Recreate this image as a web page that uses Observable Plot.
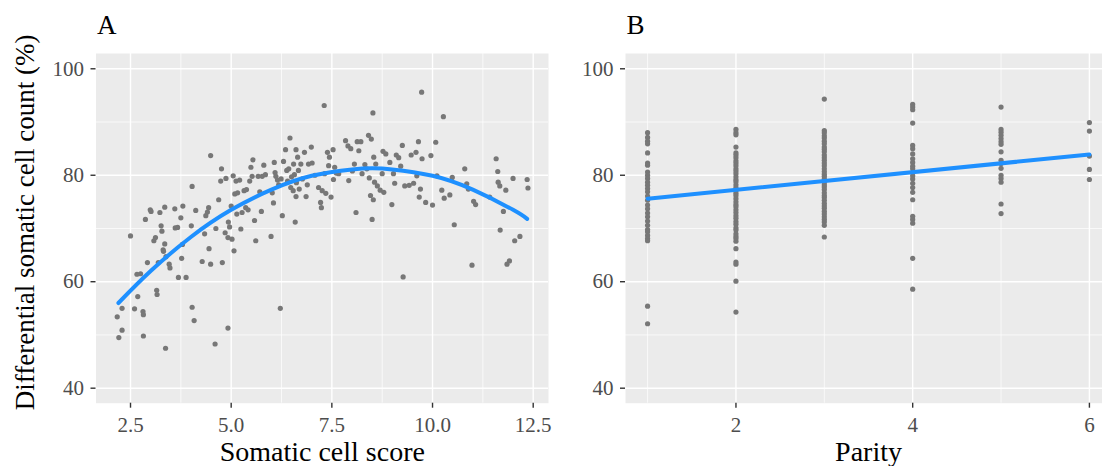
<!DOCTYPE html>
<html><head><meta charset="utf-8">
<script src="https://cdn.jsdelivr.net/npm/d3@7"></script>
<script src="https://cdn.jsdelivr.net/npm/@observablehq/plot@0.6"></script>
<style>
html,body{margin:0;padding:0;background:#fff;overflow:hidden;width:1102px;height:466px;}
#wrap{position:relative;width:1102px;height:466px;overflow:hidden;}
#a{position:absolute;left:0;top:0;width:560px;}
#b{position:absolute;left:560px;top:0;width:600px;}
svg{max-width:none !important;}
svg text, svg g{font-family:'Liberation Serif','Times New Roman',serif !important;}
</style></head><body><div id="wrap"><div id="a"></div><div id="b"></div></div>
<script>
// Panel A: somatic cell score vs differential somatic cell count
const sccScore = [2.17,2.21,2.29,2.29,2.5,2.6,2.66,2.68,2.75,2.81,
2.82,2.82,2.87,2.92,2.99,3.01,3.08,3.12,3.15,3.16,
3.19,3.23,3.26,3.28,3.31,3.32,3.35,3.37,3.35,3.38,
3.46,3.48,3.6,3.61,3.67,3.69,3.75,3.77,3.8,3.79,
3.88,4.01,4.03,4.03,4.08,4.12,4.28,4.34,4.37,4.41,
4.44,4.45,4.49,4.49,4.6,4.62,4.69,4.74,4.76,4.78,
4.85,4.87,4.92,4.92,4.93,4.96,5.0,5.02,5.05,5.07,
5.09,5.12,5.14,5.16,5.21,5.24,5.27,5.32,5.36,5.38,
5.42,5.46,5.49,5.52,5.54,5.58,5.61,5.67,5.71,5.75,
5.77,5.81,5.85,5.99,6.02,6.05,6.07,6.09,6.11,6.15,
6.18,6.22,6.24,6.27,6.3,6.35,6.38,6.4,6.43,6.46,
6.48,6.5,6.54,6.55,6.57,6.59,6.61,6.61,6.62,6.65,
6.67,6.69,6.73,6.77,6.82,6.86,6.89,6.92,6.99,7.01,
7.08,7.17,7.22,7.24,7.26,7.31,7.32,7.35,7.39,7.42,
7.44,7.48,7.53,7.54,7.57,7.61,7.67,7.84,7.9,7.92,
7.97,8.01,8.06,8.1,8.13,8.17,8.22,8.25,8.32,8.37,
8.41,8.43,8.46,8.48,8.5,8.52,8.53,8.54,8.56,8.59,
8.63,8.7,8.75,8.77,8.79,8.84,8.94,8.99,9.03,9.06,
9.1,9.16,9.21,9.25,9.27,9.31,9.42,9.47,9.53,9.59,
9.61,9.65,9.67,9.7,9.73,9.74,9.83,9.96,10.0,10.08,
10.11,10.23,10.27,10.29,10.43,10.49,10.54,10.8,10.85,10.89,
10.98,11.02,11.07,11.42,11.58,11.62,11.63,11.67,11.68,11.76,
11.82,11.85,11.91,12.0,12.04,12.17,12.35,12.37];
const dsccA = [53.4,49.5,55.0,50.9,68.6,54.9,61.4,57.2,61.5,54.4,
53.8,49.8,71.7,63.6,73.5,73.2,67.7,68.3,58.4,57.6,
63.6,73.0,70.5,69.5,66.0,65.7,74.0,47.5,67.1,64.7,
63.3,62.6,73.7,70.1,70.2,60.8,72.0,64.4,74.2,67.0,
60.8,70.5,77.9,55.2,52.7,73.4,63.8,69.0,72.4,73.1,
73.9,66.2,83.7,63.3,48.3,70.0,75.4,78.9,81.2,63.6,
69.2,79.4,68.3,51.3,71.2,70.3,74.2,68.0,79.9,65.8,
76.5,78.9,72.7,76.7,79.1,69.9,73.0,77.1,73.9,77.3,
73.5,78.9,81.5,79.8,82.9,71.5,67.7,79.8,76.9,73.2,
79.8,81.9,80.1,68.5,76.7,74.8,82.4,80.5,79.8,79.1,
78.2,55.0,79.3,72.4,82.6,84.8,80.9,78.9,81.2,87.0,
77.7,79.7,77.1,82.1,80.1,71.2,84.8,76.0,78.6,83.4,
80.9,77.4,82.1,79.3,84.3,76.0,78.2,82.1,85.3,82.3,
80.0,77.7,74.9,73.9,77.1,93.1,80.3,76.6,84.3,81.8,
83.4,75.9,84.8,79.2,81.5,80.4,80.3,86.5,85.5,79.0,
85.0,80.8,82.1,73.0,86.3,84.6,86.3,80.3,82.0,81.2,
87.5,79.5,76.2,86.8,71.7,91.7,75.4,83.4,78.7,82.1,
78.0,77.2,80.3,84.5,76.8,84.0,82.4,74.5,80.3,78.5,
83.8,83.3,81.7,85.6,60.9,78.0,78.1,83.8,78.5,84.3,
79.9,86.3,75.9,77.4,95.6,83.1,74.9,83.7,74.4,86.2,
79.9,77.2,91.0,75.7,76.3,79.6,70.7,81.2,78.4,77.4,
63.1,75.1,74.5,75.9,83.1,80.7,78.7,78.0,69.7,73.2,
77.2,63.3,63.9,79.4,67.7,68.5,79.2,77.6];
// fitted curve
const smoothAX = [2.2,3,4,5,6,7,8,8.5,9,10,11,12,12.35];
const smoothAY = [56.0,62.0,68.4,73.5,77.3,79.9,81.1,81.3,81.1,79.9,77.3,73.5,71.8];

// Panel B: parity vs differential somatic cell count
const parity1 = [88.0,87.1,86.4,85.9,84.2,82.3,81.9,80.6,80.0,79.4,78.7,78.1,77.5,76.9,76.1,75.3,74.4,73.7,72.9,72.2,71.4,70.6,69.8,69.4,68.7,68.1,67.7,55.4,52.1];
const parity2 = [88.6,88.0,87.6,85.3,84.2,83.8,83.3,82.7,82.3,81.8,81.2,80.8,80.3,79.7,79.2,78.8,78.2,77.7,77.1,76.6,76.2,75.6,75.0,74.5,74.1,73.5,73.0,72.4,71.9,71.3,70.8,70.1,69.7,69.0,68.5,68.1,67.6,66.2,63.7,63.3,60.1,54.3];
const parity3 = [94.3,88.4,88.0,87.4,87.0,86.4,85.9,85.3,84.9,84.4,83.8,83.3,82.8,82.3,81.8,81.2,80.7,80.2,79.8,79.3,78.7,78.2,77.8,77.3,76.7,76.2,75.8,75.3,74.7,74.2,73.8,73.2,72.7,72.2,71.7,71.2,70.6,68.4];
const parity4 = [93.3,92.8,92.3,89.8,85.6,85.0,84.0,83.1,82.4,81.7,81.2,80.5,79.9,79.3,78.5,77.7,76.8,75.4,72.3,71.7,71.0,64.4,58.6];
const parity5 = [92.8,88.6,88.1,87.5,86.9,86.3,85.8,84.4,82.8,82.2,81.3,80.0,79.4,78.7,74.6,72.8];
const parity6 = [89.9,88.3,83.6,81.1,79.2];
const trendBX = [1, 6];
const trendBY = [75.6, 83.9];

// axis ticks
const yMajor = [40, 60, 80, 100];
const yMinor = [50, 70, 90];
const xMajorA = [2.5, 5.0, 7.5, 10.0, 12.5];
const xMinorA = [3.75, 6.25, 8.75, 11.25];
const xMajorB = [2, 4, 6];
const xMinorB = [1, 3, 5];

const yDomain = [37.18, 102.87];
const FONT = "'Liberation Serif','Times New Roman',serif";

const dotsA = sccScore.map((x, i) => ({x, y: dsccA[i]}));
const smoothA = smoothAX.map((x, i) => ({x, y: smoothAY[i]}));
const dotsB = [parity1, parity2, parity3, parity4, parity5, parity6]
  .flatMap((arr, k) => arr.map(y => ({x: k + 1, y})));
const trendB = trendBX.map((x, i) => ({x, y: trendBY[i]}));

function panel({width, ml, mr, xDomain, xMajor, xMinor, xFormat, xTitle, yTitle, letter, dots, smooth}) {
  const gridStyle = {stroke: "#fff", strokeOpacity: 1};
  const tickStyle = {stroke: "#333", strokeWidth: 1.4, fill: "#4d4d4d", fontSize: 21, fontFamily: FONT, label: null};
  return Plot.plot({
    width, height: 466,
    marginLeft: ml, marginRight: mr, marginTop: 53, marginBottom: 63.3,
    style: {fontFamily: FONT, fontSize: "21px", background: "transparent", overflow: "visible", maxWidth: "none"},
    x: {domain: xDomain},
    y: {domain: yDomain},
    marks: [
      Plot.frame({fill: "#ebebeb", stroke: "none"}),
      Plot.gridX(xMinor, {...gridStyle, strokeWidth: 0.7}),
      Plot.gridY(yMinor, {...gridStyle, strokeWidth: 0.7}),
      Plot.gridX(xMajor, {...gridStyle, strokeWidth: 1.4}),
      Plot.gridY(yMajor, {...gridStyle, strokeWidth: 1.4}),
      Plot.axisX(xMajor, {...tickStyle, tickSize: 5, tickPadding: 9, tickFormat: xFormat}),
      Plot.axisY(yMajor, {...tickStyle, tickSize: 5, tickPadding: 7, tickFormat: d => String(d)}),
      Plot.dot(dots, {x: "x", y: "y", r: 2.6, fill: "#777777", stroke: "none"}),
      Plot.line(smooth, {x: "x", y: "y", stroke: "#1E90FF", strokeWidth: 4, curve: "natural"}),
      Plot.text([xTitle], {frameAnchor: "bottom", textAnchor: "middle", lineAnchor: "middle", dy: 48.5, fontSize: 28, fontFamily: FONT, fill: "#000"}),
      yTitle ? Plot.text([yTitle], {frameAnchor: "left", textAnchor: "middle", lineAnchor: "middle", rotate: -90, dx: -70.5, dy: -6, fontSize: 27, fontFamily: FONT, fill: "#000"}) : null,
      Plot.text([letter], {frameAnchor: "top-left", textAnchor: "start", lineAnchor: "middle", dx: 1, dy: -28.5, fontSize: 27, fontFamily: FONT, fill: "#000"})
    ]
  });
}

document.getElementById("a").append(panel({
  width: 560, ml: 95.5, mr: 12, xDomain: [1.643, 12.88],
  xMajor: xMajorA, xMinor: xMinorA, xFormat: d => d.toFixed(1),
  xTitle: "Somatic cell score", yTitle: "Differential somatic cell count (%)",
  letter: "A", dots: dotsA, smooth: smoothA
}));
document.getElementById("b").append(panel({
  width: 600, ml: 65, mr: 49, xDomain: [0.75, 6.25],
  xMajor: xMajorB, xMinor: xMinorB, xFormat: d => String(d),
  xTitle: "Parity", yTitle: null,
  letter: "B", dots: dotsB, smooth: trendB
}));
</script></body></html>
